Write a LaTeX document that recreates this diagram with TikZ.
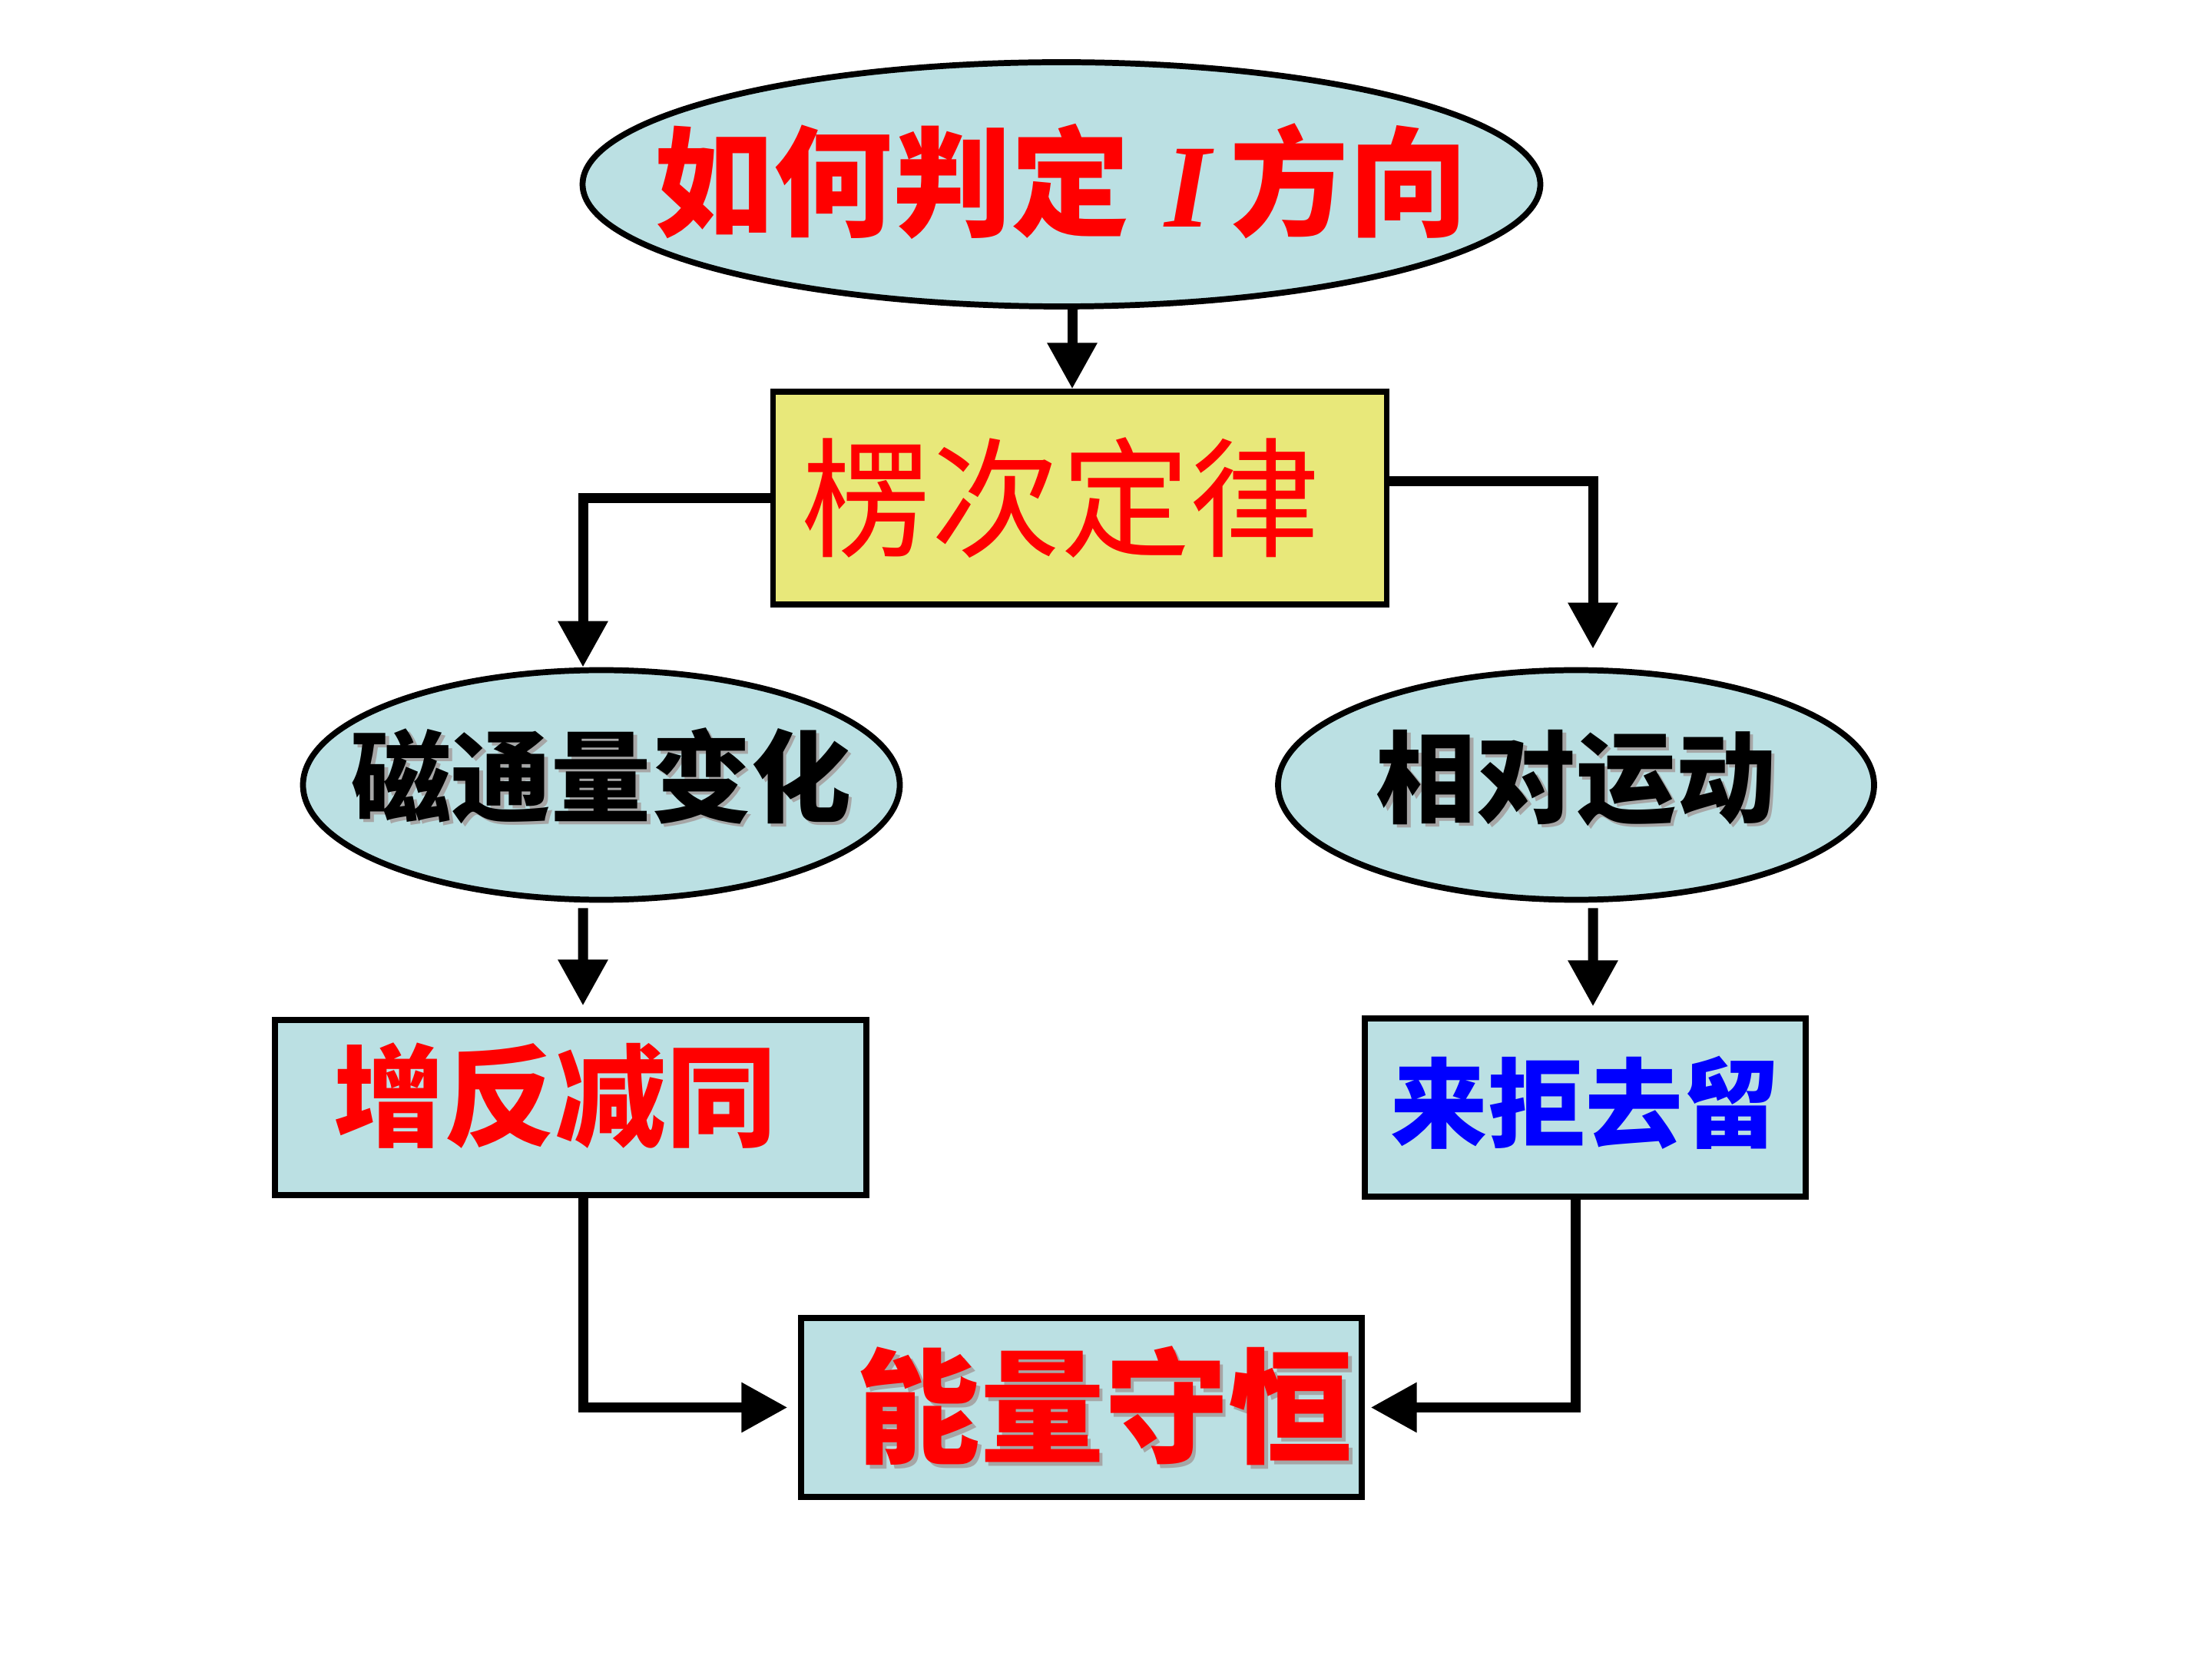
\documentclass[tikz,border=0pt]{standalone}
\usepackage{fontspec}
\newfontfamily\hei{Noto Sans CJK SC}
\newfontfamily\romano{Liberation Serif}
\usetikzlibrary{arrows.meta,shapes.geometric}
\definecolor{azzurro}{HTML}{BBE0E3}
\definecolor{giallo}{HTML}{E8E87A}
\definecolor{rosso}{HTML}{FF0000}
\definecolor{blu}{HTML}{0000FF}
\newcommand{\ombra}[1]{\makebox[0pt][l]{\kern0.45mm\raisebox{-0.45mm}{\textcolor{black!35}{#1}}}#1}
% testo al centro di un ovale, senza allargarlo
\newcommand{\centrato}[2]{\makebox[0pt]{\raisebox{\dimexpr-0.38em+#1\relax}[0pt][0pt]{#2}}}
\begin{document}
\begin{tikzpicture}[x=1cm,y=1cm,font=\hei,
    ovale/.style={ellipse,draw,fill=azzurro,line width=2.2pt,inner sep=0pt},
    riquadro/.style={rectangle,draw,fill=azzurro,line width=2.1pt,inner sep=0pt},
    freccia/.style={line width=3.7pt,-{Triangle[length=6mm,width=6.2mm]}}]

  \useasboundingbox (0,0) rectangle (28.8,-21.6);

  % ---- la domanda --------------------------------------------------------
  \node[ovale,minimum width=12.47cm,minimum height=3.18cm,text=rosso] (domanda) at (13.82,-2.40)
    {\fontsize{44pt}{50pt}\selectfont\bfseries
     \centrato{0.03cm}{如何判定\hspace{0.45cm}{\romano\itshape I}\hspace{0.25cm}方向}};

  % ---- la legge ----------------------------------------------------------
  \node[riquadro,fill=giallo,minimum width=7.99cm,minimum height=2.77cm,text=rosso] (legge) at (14.06,-6.485)
    {\fontsize{48pt}{54pt}\selectfont 楞次定律\hspace*{0.5cm}};

  % ---- i due punti di vista ----------------------------------------------
  \node[ovale,minimum width=7.77cm,minimum height=2.99cm] (flusso) at (7.83,-10.22)
    {\fontsize{37pt}{42pt}\selectfont\bfseries\centrato{0.11cm}{\ombra{磁通量变化}}};
  \node[ovale,minimum width=7.76cm,minimum height=2.99cm] (moto) at (20.52,-10.22)
    {\fontsize{37pt}{42pt}\selectfont\bfseries\centrato{0.1cm}{\ombra{相对运动}}};

  \node[riquadro,minimum width=7.70cm,minimum height=2.28cm,text=rosso] (incdec) at (7.43,-14.42)
    {\raisebox{4.5mm}{\fontsize{41pt}{46pt}\selectfont\bfseries 增反减同}\hspace*{0.4cm}};
  \node[riquadro,minimum width=5.74cm,minimum height=2.32cm,text=blu] (vieniva) at (20.64,-14.42)
    {\raisebox{2.5mm}{\fontsize{36pt}{41pt}\selectfont\bfseries 来拒去留}};

  % ---- la conservazione --------------------------------------------------
  \node[riquadro,minimum width=7.30cm,minimum height=2.33cm,text=rosso] (energia) at (14.08,-18.325)
    {\hspace*{0.6cm}\raisebox{1.5mm}{\fontsize{46pt}{52pt}\selectfont\bfseries\ombra{能量守恒}}};

  % ---- collegamenti ------------------------------------------------------
  \draw[freccia] ([xshift=1.4mm]domanda.south) -- ([xshift=-1mm]legge.north);
  \draw[freccia] (legge.west) -| ([xshift=-2.4mm]flusso.north);
  \draw[freccia] ([yshift=2.2mm]legge.east) -| ([xshift=2.2mm,yshift=2.4mm]moto.north);
  \draw[freccia] ([xshift=-2.4mm,yshift=-0.7mm]flusso.south) -- ([xshift=1.6mm,yshift=1.5mm]incdec.north);
  \draw[freccia] ([xshift=2.2mm,yshift=-0.7mm]moto.south) -- ([xshift=1mm,yshift=1.2mm]vieniva.north);
  \draw[freccia] ([xshift=1.6mm]incdec.south) |- ([xshift=-1.4mm]energia.west);
  \draw[freccia] ([xshift=-1.3mm]vieniva.south) |- ([xshift=0.8mm]energia.east);

\end{tikzpicture}
\end{document}
